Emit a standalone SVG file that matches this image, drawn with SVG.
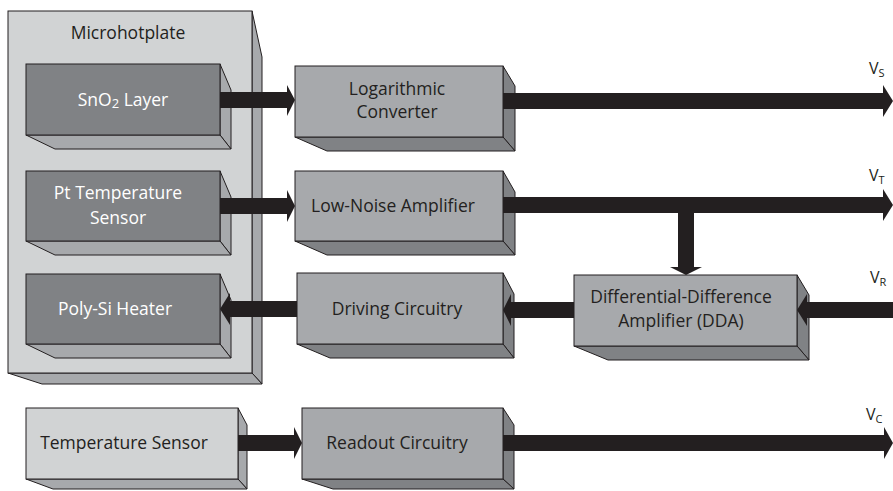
<svg xmlns="http://www.w3.org/2000/svg" width="893" height="491" viewBox="0 0 893 491">
  <style>
    .edge { stroke: #231f20; stroke-width: 1; stroke-linejoin: miter; }
    .lt { fill: #d1d3d4; }
    .md { fill: #a7a9ac; }
    .dk { fill: #808285; }
    .arrow { fill: #231f20; }
    text { font-family: "Open Sans", "Noto Sans", "Liberation Sans", sans-serif; font-size: 17.5px; fill: #231f20; }
    .inv { fill: #ffffff; }
    .c { text-anchor: middle; }
    .v { font-size: 16px; }
    .sub { font-size: 11px; }
  </style>

  <!-- Microhotplate enclosure -->
  <g id="microhotplate">
    <polygon class="md edge" points="252,11 262,57 262,384 252,373"/>
    <polygon class="md edge" points="8,373 252,373 262,384 42,384"/>
    <rect class="lt edge" x="8" y="11" width="244" height="362"/>
    <text class="c" x="128" y="39">Microhotplate</text>
  </g>

  <g id="sno2-layer">
    <polygon class="md edge" points="220,64 231,90 231,149 220,135"/>
    <polygon class="md edge" points="26,135 220,135 231,149 55,149"/>
    <rect class="dk edge" x="26" y="64" width="194" height="71"/>
    <text class="c inv" x="123" y="106">SnO<tspan font-size="13px" dy="2">2</tspan><tspan dy="-2"> Layer</tspan></text>
  </g>

  <g id="pt-sensor">
    <polygon class="md edge" points="220,171 231,197 231,255 220,241"/>
    <polygon class="md edge" points="26,241 220,241 231,255 55,255"/>
    <rect class="dk edge" x="26" y="171" width="194" height="70"/>
    <text class="c inv" x="118" y="199">Pt Temperature</text>
    <text class="c inv" x="118" y="224">Sensor</text>
  </g>

  <g id="polysi-heater">
    <polygon class="md edge" points="220,274 231,300 231,358 220,344"/>
    <polygon class="md edge" points="26,344 220,344 231,358 55,358"/>
    <rect class="dk edge" x="26" y="274" width="194" height="70"/>
    <text class="c inv" x="115" y="315">Poly-Si Heater</text>
  </g>

  <g id="log-converter">
    <polygon class="dk edge" points="503,66 515,86 515,151 503,137"/>
    <polygon class="dk edge" points="295,137 503,137 515,151 327,151"/>
    <rect class="md edge" x="295" y="66" width="208" height="71"/>
    <text class="c" x="397" y="95">Logarithmic</text>
    <text class="c" x="397" y="118">Converter</text>
  </g>

  <g id="lna">
    <polygon class="dk edge" points="503,171 515,192 515,255 503,241"/>
    <polygon class="dk edge" points="295,241 503,241 515,255 327,255"/>
    <rect class="md edge" x="295" y="171" width="208" height="70"/>
    <text class="c" x="393" y="212">Low-Noise Amplifier</text>
  </g>

  <g id="driving-circuitry">
    <polygon class="dk edge" points="503,273 514,294 514,358 503,344"/>
    <polygon class="dk edge" points="297,344 503,344 514,358 330,358"/>
    <rect class="md edge" x="297" y="273" width="206" height="71"/>
    <text class="c" x="397" y="315">Driving Circuitry</text>
  </g>

  <g id="dda">
    <polygon class="dk edge" points="797,275 809,295 809,360 797,346"/>
    <polygon class="dk edge" points="574,346 797,346 809,360 608,360"/>
    <rect class="md edge" x="574" y="275" width="223" height="71"/>
    <text class="c" x="681" y="303">Differential-Difference</text>
    <text class="c" x="681" y="327">Amplifier (DDA)</text>
  </g>

  <g id="temperature-sensor">
    <polygon class="md edge" points="238,408 247,425 247,489 238,479"/>
    <polygon class="md edge" points="26,479 238,479 247,489 53,489"/>
    <rect class="lt edge" x="26" y="408" width="212" height="71"/>
    <text class="c" x="124" y="449">Temperature Sensor</text>
  </g>

  <g id="readout-circuitry">
    <polygon class="dk edge" points="503,408 514,425 514,489 503,479"/>
    <polygon class="dk edge" points="302,479 503,479 514,489 333,489"/>
    <rect class="md edge" x="302" y="408" width="201" height="71"/>
    <text class="c" x="397" y="449">Readout Circuitry</text>
  </g>

  <!-- Signal paths -->
  <g id="connectors">
    <polygon class="arrow" points="220,92 287,92 287,85 295,100 287,116 287,108 220,108"/>
    <polygon class="arrow" points="503,93 883,93 883,85 893,101 883,117 883,109 503,109"/>
    <polygon class="arrow" points="220,198 287,198 287,190 295,206 287,222 287,214 220,214"/>
    <polygon class="arrow" points="503,197 883,197 883,189 893,205 883,221 883,213 503,213"/>
    <polygon class="arrow" points="678,212 694,212 694,267 702,267 686,275 670,267 678,267"/>
    <polygon class="arrow" points="574,302 511,302 511,294 503,310 511,326 511,318 574,318"/>
    <polygon class="arrow" points="297,301 230,301 230,293 220,309 230,325 230,317 297,317"/>
    <polygon class="arrow" points="893,302 807,302 807,294 797,310 807,326 807,318 893,318"/>
    <polygon class="arrow" points="238,435 294,435 294,427 302,443 294,459 294,451 238,451"/>
    <polygon class="arrow" points="503,435 884,435 884,427 893,443 884,459 884,451 503,451"/>
  </g>

  <!-- Output and reference voltage labels -->
  <g id="labels">
    <text class="v" x="869" y="74">V<tspan class="sub" dy="3">S</tspan></text>
    <text class="v" x="869" y="181">V<tspan class="sub" dy="3">T</tspan></text>
    <text class="v" x="870" y="283">V<tspan class="sub" dy="3">R</tspan></text>
    <text class="v" x="866" y="420">V<tspan class="sub" dy="3">C</tspan></text>
  </g>
</svg>
